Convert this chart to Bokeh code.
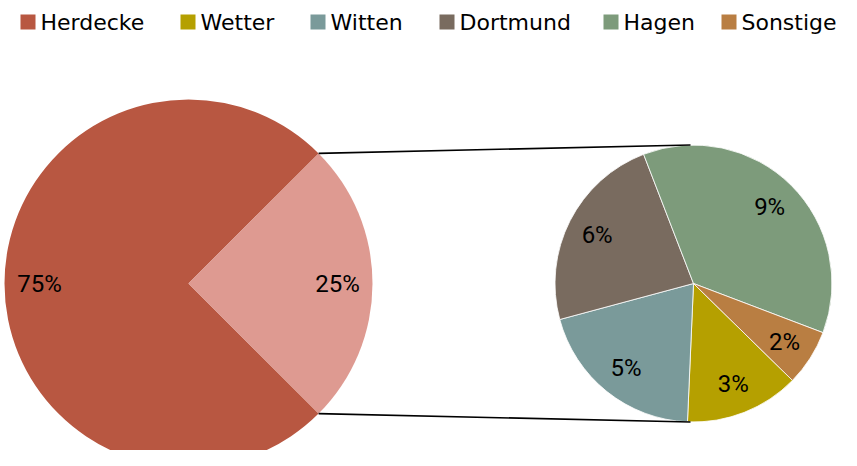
import math
from bokeh.plotting import figure
from bokeh.models import Range1d
from bokeh.core.properties import value
from bokeh.embed import file_html
from bokeh.resources import INLINE

# ---- data ----
categories = ["Herdecke", "Wetter", "Witten", "Dortmund", "Hagen", "Sonstige"]
shares = [75.0, 3.34, 5.03, 5.83, 9.16, 1.64]
colors = ["#B85741", "#B5A000", "#7A9A9A", "#796B5F", "#7D9B7B", "#B97E42"]
rest_color = "#DE9A91"

# ---- layout constants (pixel-based data space) ----
WIN_H = 466
C1 = (188, WIN_H - 283)   # main pie centre
R1 = 184
C2 = (693, WIN_H - 283)   # secondary pie centre
R2 = 138.5
START2 = math.radians(-44.4)  # where the secondary pie starts (clockwise)
legend_x = [20, 180, 310, 439, 603, 721]
legend_y = WIN_H - 21.5
SQ = 15

p = figure(width=841, height=450, x_range=Range1d(0, 841), y_range=Range1d(16, 466),
           output_backend="svg", toolbar_location=None, min_border=0,
           x_axis_type=None, y_axis_type=None)
p.grid.visible = False
p.outline_line_color = None
p.background_fill_color = "white"

total = sum(shares)
rest = sum(shares[1:])
half = rest / total * math.pi

# main pie
p.wedge(x=[C1[0]], y=[C1[1]], radius=R1, start_angle=[half], end_angle=[2 * math.pi - half],
        direction="anticlock", fill_color=colors[0], line_color=None)
p.wedge(x=[C1[0]], y=[C1[1]], radius=R1, start_angle=[-half], end_angle=[half],
        direction="anticlock", fill_color=rest_color, line_color=None)

main_labels = [f"{round(shares[0] / total * 100)}%", f"{round(rest / total * 100)}%"]
main_mid = [math.pi, 0.0]
lr1 = 0.81 * R1
p.text(x=[C1[0] + lr1 * math.cos(a) for a in main_mid],
       y=[C1[1] + lr1 * math.sin(a) for a in main_mid],
       text=main_labels, text_align="center", text_baseline="middle",
       text_font=value("Roboto"), text_font_size="24px", text_color="#000000")

# secondary pie (clockwise from START2)
starts, ends, mids = [], [], []
a = START2
for v in shares[1:]:
    span = v / rest * 2 * math.pi
    starts.append(a - span)
    ends.append(a)
    mids.append(a - span / 2)
    a -= span
p.wedge(x=[C2[0]] * len(starts), y=[C2[1]] * len(starts), radius=R2,
        start_angle=starts, end_angle=ends, direction="anticlock",
        fill_color=colors[1:], line_color="white", line_width=0.8)

sub_labels = [f"{round(v / total * 100)}%" for v in shares[1:]]
lr2 = 0.78 * R2
p.text(x=[C2[0] + lr2 * math.cos(m) for m in mids],
       y=[C2[1] + lr2 * math.sin(m) for m in mids],
       text=sub_labels, text_align="center", text_baseline="middle",
       text_font=value("Roboto"), text_font_size="24px", text_color="#000000")

# connector lines
p.segment(x0=[C1[0] + R1 * math.cos(half), C1[0] + R1 * math.cos(-half)],
          y0=[C1[1] + R1 * math.sin(half), C1[1] + R1 * math.sin(-half)],
          x1=[C2[0] - 3, C2[0] - 3], y1=[C2[1] + R2, C2[1] - R2],
          line_color="black", line_width=1.6)

# legend
p.rect(x=[x + SQ / 2 for x in legend_x], y=[legend_y] * len(legend_x), width=SQ, height=SQ,
       fill_color=colors, line_color=None)
p.text(x=[x + SQ + 5 for x in legend_x], y=[legend_y] * len(legend_x), text=categories,
       text_align="left", text_baseline="middle", text_font=value("DejaVu Sans"),
       text_font_size="22px", text_color="#000000")

open("out.html", "w").write(file_html(p, INLINE))
